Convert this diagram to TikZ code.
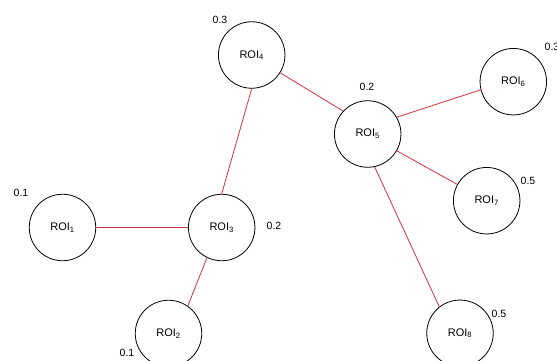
\documentclass[tikz,border=0pt]{standalone}
\usepackage{fontspec}
\setmainfont{Liberation Sans}
\definecolor{edgered}{RGB}{214,48,62}
\begin{document}
\begin{tikzpicture}[x=1pt,y=-1pt,
  roi/.style={circle,draw=black,line width=0.8pt,minimum size=66.5pt,inner sep=0pt,font=\fontsize{11}{13}\selectfont},
  wt/.style={font=\fontsize{10.5}{12}\selectfont,inner sep=0pt},
  link/.style={draw=edgered,line width=0.8pt}]
\useasboundingbox (0,0) rectangle (557,361);
% regions of interest
\node[roi] (r1) at (62.5,227.5) {ROI\textsubscript{1}};
\node[roi] (r2) at (168.5,333.5) {ROI\textsubscript{2}};
\node[roi] (r3) at (221.7,227.5) {ROI\textsubscript{3}};
\node[roi] (r4) at (251.7,55) {ROI\textsubscript{4}};
\node[roi] (r5) at (367.7,134) {ROI\textsubscript{5}};
\node[roi] (r6) at (513.3,81.7) {ROI\textsubscript{6}};
\node[roi] (r7) at (486.7,200.7) {ROI\textsubscript{7}};
\node[roi] (r8) at (460,333.3) {ROI\textsubscript{8}};
% weights
\node[wt] (w1) at (21,193) {0.1};
\node[wt] (w2) at (127,353) {0.1};
\node[wt] (w3) at (274,226) {0.2};
\node[wt] (w4) at (220,20) {0.3};
\node[wt] (w5) at (367,87) {0.2};
\node[wt] (w6) at (552,47) {0.3};
\node[wt] (w7) at (528,181) {0.5};
\node[wt] (w8) at (499,314) {0.5};
% connections
\draw[link] (r1.east) -- (r3.west);
\draw[link] (r3.244) -- (r2.55);
\draw[link] (r3.north) -- (r4.south);
\draw[link] (r4.-32) -- (r5.137);
\draw[link] (r5.30) -- (r6.194);
\draw[link] (r5.-30) -- (r7.151);
\draw[link] (r5.-78) -- (r8.128);
\end{tikzpicture}
\end{document}
